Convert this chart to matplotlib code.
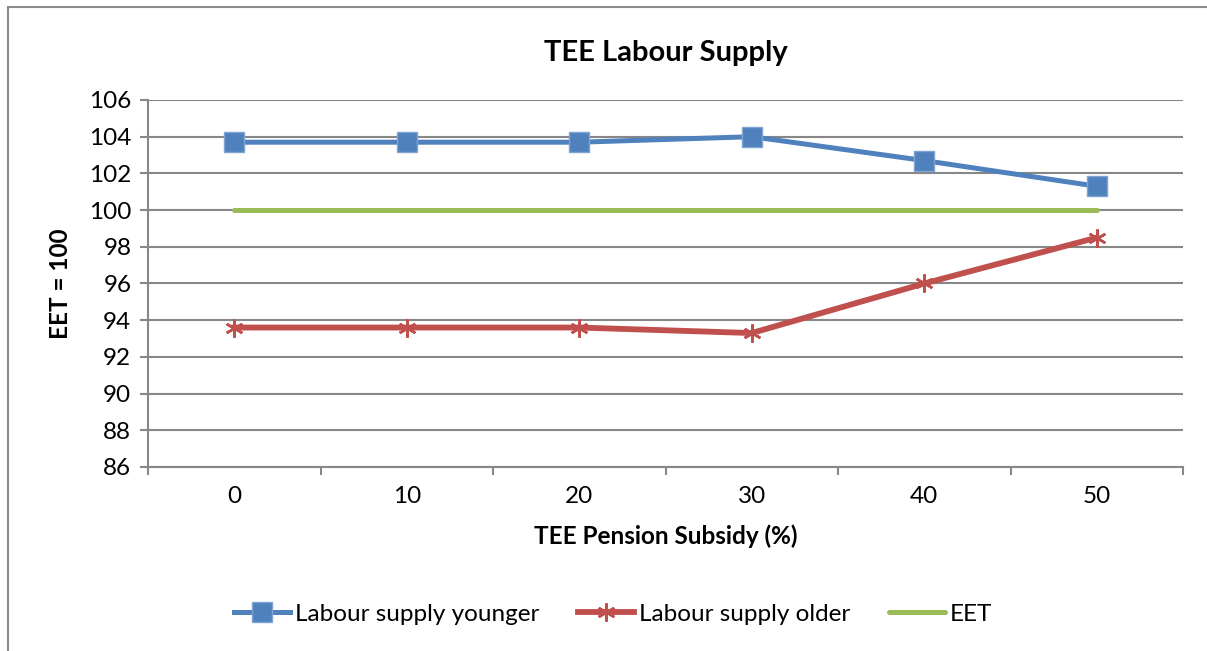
import numpy as np
import matplotlib.pyplot as plt
from matplotlib.patches import Rectangle

plt.rcParams['font.family'] = ['Lato', 'DejaVu Sans']

subsidy = [0, 10, 20, 30, 40, 50]
younger = [103.7, 103.7, 103.7, 104.0, 102.7, 101.3]
older = [93.6, 93.6, 93.6, 93.3, 96.0, 98.5]
eet = [100, 100, 100, 100, 100, 100]
yticks = np.arange(86, 107, 2)

grey = '#878787'
fig = plt.figure(figsize=(12.07, 6.51), dpi=100)
ax = fig.add_axes([148/1207, 1-467/651, (1183-148)/1207, (467-100)/651])

xpos = np.arange(len(subsidy))
ax.plot(xpos, younger, color='#4F81BD', lw=3.6, marker='s', ms=14,
        mfc='#4F81BD', mec='#7FA3D3', mew=1.0, label='Labour supply younger', zorder=4)
ax.plot(xpos, older, color='#C0504D', lw=4.2, marker=(6, 2, 0), ms=13,
        mec='#C0504D', mew=1.8, label='Labour supply older', zorder=4)
ax.plot(xpos, eet, color='#9BBB59', lw=3.6, solid_capstyle='round',
        label='EET', zorder=3)

ax.set_xlim(-0.5, 5.5)
ax.set_ylim(86, 106)
ax.set_yticks(yticks)
ax.set_xticks(xpos)
ax.set_xticklabels([str(s) for s in subsidy])
ax.set_xticks(np.arange(-0.5, 6, 1), minor=True)
ax.tick_params(axis='x', which='major', length=0, pad=14, labelsize=17.5)
ax.tick_params(axis='x', which='minor', length=6, width=1.5, color=grey, direction='out')
ax.tick_params(axis='y', length=6, width=1.5, color=grey, labelsize=17.5, pad=6)
ax.grid(axis='y', color=grey, lw=1.5)
ax.set_axisbelow(True)
for s in ['top', 'right']:
    ax.spines[s].set_visible(False)
for s in ['left', 'bottom']:
    ax.spines[s].set_color(grey)
    ax.spines[s].set_linewidth(1.5)

ax.set_title('TEE Labour Supply', fontsize=21, fontweight='bold', pad=28)
ax.set_xlabel('TEE Pension Subsidy (%)', fontsize=17.5, fontweight='bold', labelpad=12)
ax.set_ylabel('EET = 100', fontsize=17.5, fontweight='bold', labelpad=12)

fig.legend(loc='center', bbox_to_anchor=(613/1207, 1-614/651), ncol=3, frameon=False,
           fontsize=17.5, handlelength=2.3, columnspacing=1.6, handletextpad=0.2)

fig.patches.append(Rectangle((8/1207, -0.1), 1.2, 1.1 - 7/651, transform=fig.transFigure,
                             fill=False, edgecolor='#8a8a8a', lw=1.5))

fig.savefig('out.png', dpi=100)
